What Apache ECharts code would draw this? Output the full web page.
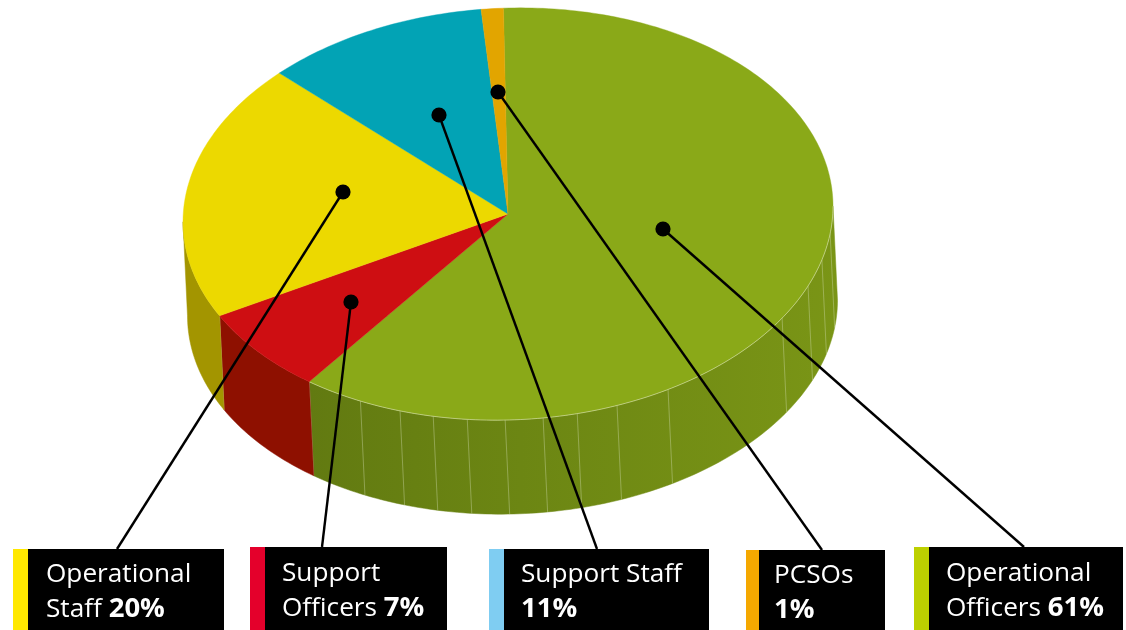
<!DOCTYPE html>
<html>
<head>
<meta charset="utf-8">
<style>html,body{margin:0;padding:0;background:#fff}#c{width:1126px;height:630px}</style>
<script src="https://cdn.jsdelivr.net/npm/echarts@6/dist/echarts.min.js"></script>
</head>
<body>
<div id="c"></div>
<script>
// Data
const categories = ['Operational Officers', 'Support Officers', 'Operational Staff', 'Support Staff', 'PCSOs'];
const shares = [60.7, 6.9, 20.2, 11.1, 1.1];
const labelFirstLines = ['Operational', 'Support', 'Operational', 'Support Staff', 'PCSOs'];
const labelSecondLines = ['Officers', 'Officers', 'Staff', '', ''];

// Styles and layout
const topColors = ['#8AA918', '#CE0E12', '#ECD900', '#02A3B5', '#E2A500'];
const wallColors = ['#6F8A14', '#8E1000', '#A39500', '#02808E', '#B08100'];
const stripColors = ['#BDD000', '#E4002B', '#FFE800', '#7FCDF2', '#F5A800'];
const pie = { cx: 508, cy: 214, rx: 325, ry: 206, dx: 4.5, dy: 94, start: -0.8, shear: -0.024 };
const seamAngles = [207, 199.4, 193.3, 187.2, 180.5, 173.8, 167.7, 160.4, 150.5, 122.5, 112.6, 105, 97.6];
const boxes = [
  { x: 914, y: 547, strip: 15, r: 1123, tx: 946, ty: 556 },
  { x: 250, y: 547, strip: 15, r: 447, tx: 282, ty: 556 },
  { x: 13, y: 549, strip: 15, r: 224, tx: 46, ty: 557 },
  { x: 489, y: 549, strip: 15, r: 709, tx: 521, ty: 557 },
  { x: 746, y: 550, strip: 13, r: 885, tx: 774, ty: 558 }
];
const leaders = [
  [663, 229, 1024, 547], [351, 302, 322, 547], [343, 192, 117, 549], [439, 115, 597, 549], [498, 92, 822, 550]
];

const total = shares.reduce((a, b) => a + b, 0);
const bounds = [pie.start];
shares.forEach(v => bounds.push(bounds[bounds.length - 1] + v / total * 360));
const rad = d => d * Math.PI / 180;
const rim = (deg, ox, oy) => {
  const ex = pie.rx * Math.sin(rad(deg));
  return [pie.cx + (ox || 0) + ex, pie.cy + (oy || 0) - pie.ry * Math.cos(rad(deg)) + pie.shear * ex];
};
function arc(a, b, ox, oy) {
  const pts = [], n = Math.max(2, Math.ceil(Math.abs(b - a)));
  for (let i = 0; i <= n; i++) pts.push(rim(a + (b - a) * i / n, ox, oy));
  return pts;
}
const greenWall = new echarts.graphic.LinearGradient(309, 0, 838, 0, [
  { offset: 0, color: '#627A11' }, { offset: 0.4, color: '#6C8613' }, { offset: 1, color: '#7A9516' }
], true);

const option = {
  animation: false,
  grid: { left: 0, right: 0, top: 0, bottom: 0 },
  xAxis: { type: 'value', min: 0, max: 1126, show: false },
  yAxis: { type: 'value', min: 0, max: 630, inverse: true, show: false },
  series: [
    { // side walls
      type: 'custom', z: 1, silent: true, clip: false,
      data: shares,
      renderItem(params, api) {
        const i = params.dataIndex;
        const a = Math.max(bounds[i], 90), b = Math.min(bounds[i + 1], 270);
        if (b <= a) return { type: 'group', children: [] };
        const pts = arc(a, b).concat(arc(b, a, pie.dx, pie.dy)).map(p => api.coord(p));
        const fill = i === 0 ? greenWall : wallColors[i];
        const kids = [{ type: 'polygon', shape: { points: pts }, style: { fill, stroke: fill, lineWidth: 0.5 } }];
        if (i === 0) {
          seamAngles.forEach(d => {
            const p = api.coord(rim(d)), q = api.coord(rim(d, pie.dx, pie.dy));
            kids.push({ type: 'line', shape: { x1: p[0], y1: p[1], x2: q[0], y2: q[1] },
              style: { stroke: 'rgba(215,225,185,0.42)', lineWidth: 0.9 } });
          });
        }
        // pale seam where the slice wall ends
        const e = api.coord(rim(b)), f = api.coord(rim(b, pie.dx, pie.dy));
        if (b < 270) kids.push({ type: 'line', shape: { x1: e[0], y1: e[1], x2: f[0], y2: f[1] },
          style: { stroke: 'rgba(225,215,190,0.55)', lineWidth: 0.9 } });
        return { type: 'group', children: kids };
      }
    },
    { // top face
      type: 'custom', z: 2, silent: true, clip: false,
      data: shares,
      renderItem(params, api) {
        const i = params.dataIndex;
        const pts = [[pie.cx, pie.cy]].concat(arc(bounds[i], bounds[i + 1])).map(p => api.coord(p));
        const kids = [{ type: 'polygon', shape: { points: pts }, style: { fill: topColors[i], stroke: topColors[i], lineWidth: 0.4 } }];
        if (i === 0) {
          kids.push({ type: 'polyline', shape: { points: arc(90, bounds[1]).map(p => api.coord(p)) },
            style: { fill: 'none', stroke: 'rgba(225,232,190,0.7)', lineWidth: 0.8 } });
        }
        return { type: 'group', children: kids };
      }
    },
    { // leader lines and dots
      type: 'custom', z: 3, silent: true, clip: false,
      data: leaders,
      renderItem(params, api) {
        const l = leaders[params.dataIndex];
        const p = api.coord([l[0], l[1]]), q = api.coord([l[2], l[3]]);
        return { type: 'group', children: [
          { type: 'line', shape: { x1: p[0], y1: p[1], x2: q[0], y2: q[1] }, style: { stroke: '#000', lineWidth: 2.4 } },
          { type: 'circle', shape: { cx: p[0], cy: p[1], r: 7.6 }, style: { fill: '#000' } }
        ] };
      }
    },
    { // label boxes
      type: 'custom', z: 4, silent: true, clip: false,
      data: categories,
      renderItem(params, api) {
        const i = params.dataIndex, b = boxes[i];
        const tl = api.coord([b.x, b.y]), s = api.coord([b.x + b.strip, 630]), r = api.coord([b.r, 630]);
        const pct = Math.round(shares[i]) + '%';
        const second = labelSecondLines[i];
        const line2 = (second ? '{n|' + second + ' }' : '') + '{b|' + pct + '}';
        const rich = {
          n: { font: '400 26.2px "Open Sans"', fill: '#fff', lineHeight: 35 },
          b: { font: '700 27.5px "Open Sans"', fill: '#fff', lineHeight: 35 }
        };
        return { type: 'group', children: [
          { type: 'rect', shape: { x: tl[0], y: tl[1], width: s[0] - tl[0], height: s[1] - tl[1] }, style: { fill: stripColors[i] } },
          { type: 'rect', shape: { x: s[0], y: tl[1], width: r[0] - s[0], height: r[1] - tl[1] }, style: { fill: '#000' } },
          { type: 'text', style: { x: b.tx, y: b.ty, text: '{n|' + labelFirstLines[i] + '}\n' + line2, rich, fill: '#fff' } }
        ] };
      }
    }
  ]
};
echarts.init(document.getElementById('c'), null, { renderer: 'canvas' }).setOption(option);
</script>
</body>
</html>
